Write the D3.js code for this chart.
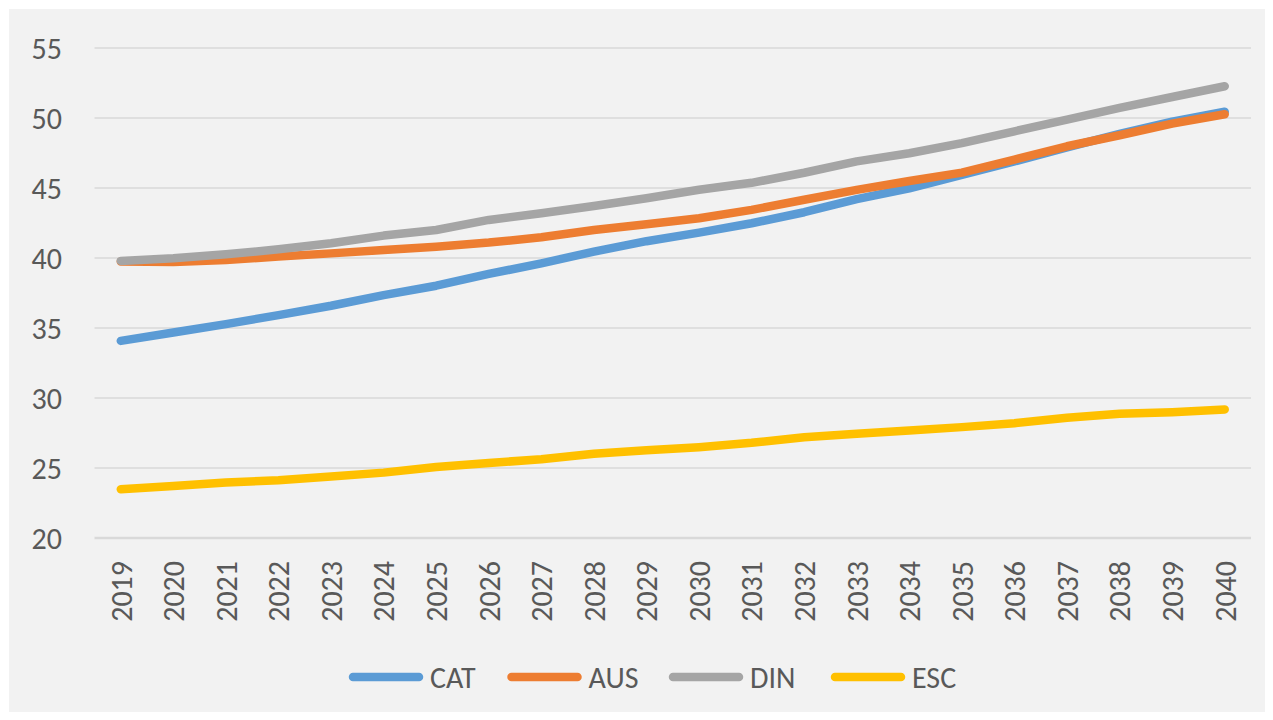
<!DOCTYPE html>
<html lang="en">
	<head>
		<meta charset="utf-8">
		<title>Chart</title>
		<script src="https://d3js.org/d3.v7.min.js"></script>
		<style>
			body { margin: 0; background: #ffffff; }
			text { font-family: Calibri, Carlito, "Open Sans", sans-serif; fill: #595959; }
		</style>
	</head>
	<body>
		<div id="chart"></div>

		<script>
			// Data
			let years = ["2019", "2020", "2021", "2022", "2023", "2024", "2025", "2026", "2027", "2028", "2029",
			             "2030", "2031", "2032", "2033", "2034", "2035", "2036", "2037", "2038", "2039", "2040"];
			let seriesNames = ["CAT", "AUS", "DIN", "ESC"];
			let catValues = [34.08, 34.68, 35.28, 35.92, 36.59, 37.35, 38.02, 38.86, 39.62, 40.45, 41.2,
			                 41.81, 42.48, 43.27, 44.2, 44.98, 45.93, 46.9, 47.9, 48.86, 49.74, 50.45];
			let ausValues = [39.75, 39.72, 39.86, 40.1, 40.33, 40.57, 40.81, 41.1, 41.48, 42.0, 42.41,
			                 42.84, 43.44, 44.16, 44.87, 45.5, 46.1, 47.03, 47.98, 48.77, 49.6, 50.27];
			let dinValues = [39.79, 39.98, 40.26, 40.62, 41.05, 41.6, 42.0, 42.72, 43.2, 43.72, 44.27,
			                 44.87, 45.37, 46.09, 46.9, 47.48, 48.2, 49.05, 49.89, 50.72, 51.5, 52.27];
			let escValues = [23.48, 23.72, 23.96, 24.13, 24.4, 24.67, 25.07, 25.36, 25.62, 26.02, 26.26,
			                 26.49, 26.8, 27.2, 27.44, 27.68, 27.92, 28.2, 28.59, 28.87, 28.99, 29.18];
			let yTicks = [20, 25, 30, 35, 40, 45, 50, 55];

			let colors = ["#5b9bd5", "#ed7d31", "#a5a5a5", "#ffc000"];
			let allValues = [catValues, ausValues, dinValues, escValues];

			let outer_width = 1273;
			let outer_height = 720;
			let plot = {left: 94.5, right: 1251, top: 48, bottom: 538};

			let svg = d3.select("#chart")
			            .append("svg")
			            .attr("width", outer_width)
			            .attr("height", outer_height);

			// chart area background
			svg.append("rect")
			   .attr("x", 9)
			   .attr("y", 9)
			   .attr("width", 1256)
			   .attr("height", 703)
			   .style("fill", "#f2f2f2");

			// scales
			let xScale = d3.scaleBand()
			               .domain(years)
			               .range([plot.left, plot.right]);
			let yScale = d3.scaleLinear()
			               .domain([20, 55])
			               .range([plot.bottom, plot.top]);

			// gridlines
			svg.append("g")
			   .selectAll("line")
			   .data(yTicks)
			   .enter()
			   .append("line")
			   .attr("x1", plot.left)
			   .attr("x2", plot.right)
			   .attr("y1", function(d) { return yScale(d); })
			   .attr("y2", function(d) { return yScale(d); })
			   .style("stroke", "#d9d9d9")
			   .style("stroke-width", function(d) { return d == 20 ? 2.5 : 1.5; });

			// y labels
			svg.append("g")
			   .selectAll("text")
			   .data(yTicks)
			   .enter()
			   .append("text")
			   .attr("x", 62)
			   .attr("y", function(d) { return yScale(d); })
			   .attr("dy", "0.36em")
			   .attr("text-anchor", "end")
			   .style("font-size", "30px")
			   .text(function(d) { return d; });

			// x labels, rotated
			svg.append("g")
			   .selectAll("text")
			   .data(years)
			   .enter()
			   .append("text")
			   .attr("transform", function(d) {
			       return "translate(" + (xScale(d) + xScale.bandwidth() / 2) + ",561) rotate(-90)";
			   })
			   .attr("dy", "0.36em")
			   .attr("text-anchor", "end")
			   .style("font-size", "30px")
			   .text(function(d) { return d; });

			// lines
			let line = d3.line()
			             .x(function(d, i) { return xScale(years[i]) + xScale.bandwidth() / 2; })
			             .y(function(d) { return yScale(d); });

			svg.append("g")
			   .selectAll("path")
			   .data(allValues)
			   .enter()
			   .append("path")
			   .attr("d", function(d) { return line(d); })
			   .style("fill", "none")
			   .style("stroke", function(d, i) { return colors[i]; })
			   .style("stroke-width", 8.5)
			   .style("stroke-linecap", "round")
			   .style("stroke-linejoin", "round");

			// legend
			let legendX = [353, 511.5, 673, 835];
			let legend = svg.append("g")
			                .selectAll("g")
			                .data(seriesNames)
			                .enter()
			                .append("g")
			                .attr("transform", function(d, i) { return "translate(" + legendX[i] + ",677)"; });

			legend.append("line")
			      .attr("x1", 0)
			      .attr("x2", 66)
			      .style("stroke", function(d, i) { return colors[i]; })
			      .style("stroke-width", 8.5)
			      .style("stroke-linecap", "round");

			legend.append("text")
			      .attr("x", 77)
			      .attr("dy", "0.36em")
			      .style("font-size", "30px")
			      .text(function(d) { return d; });
		</script>
	</body>
</html>
